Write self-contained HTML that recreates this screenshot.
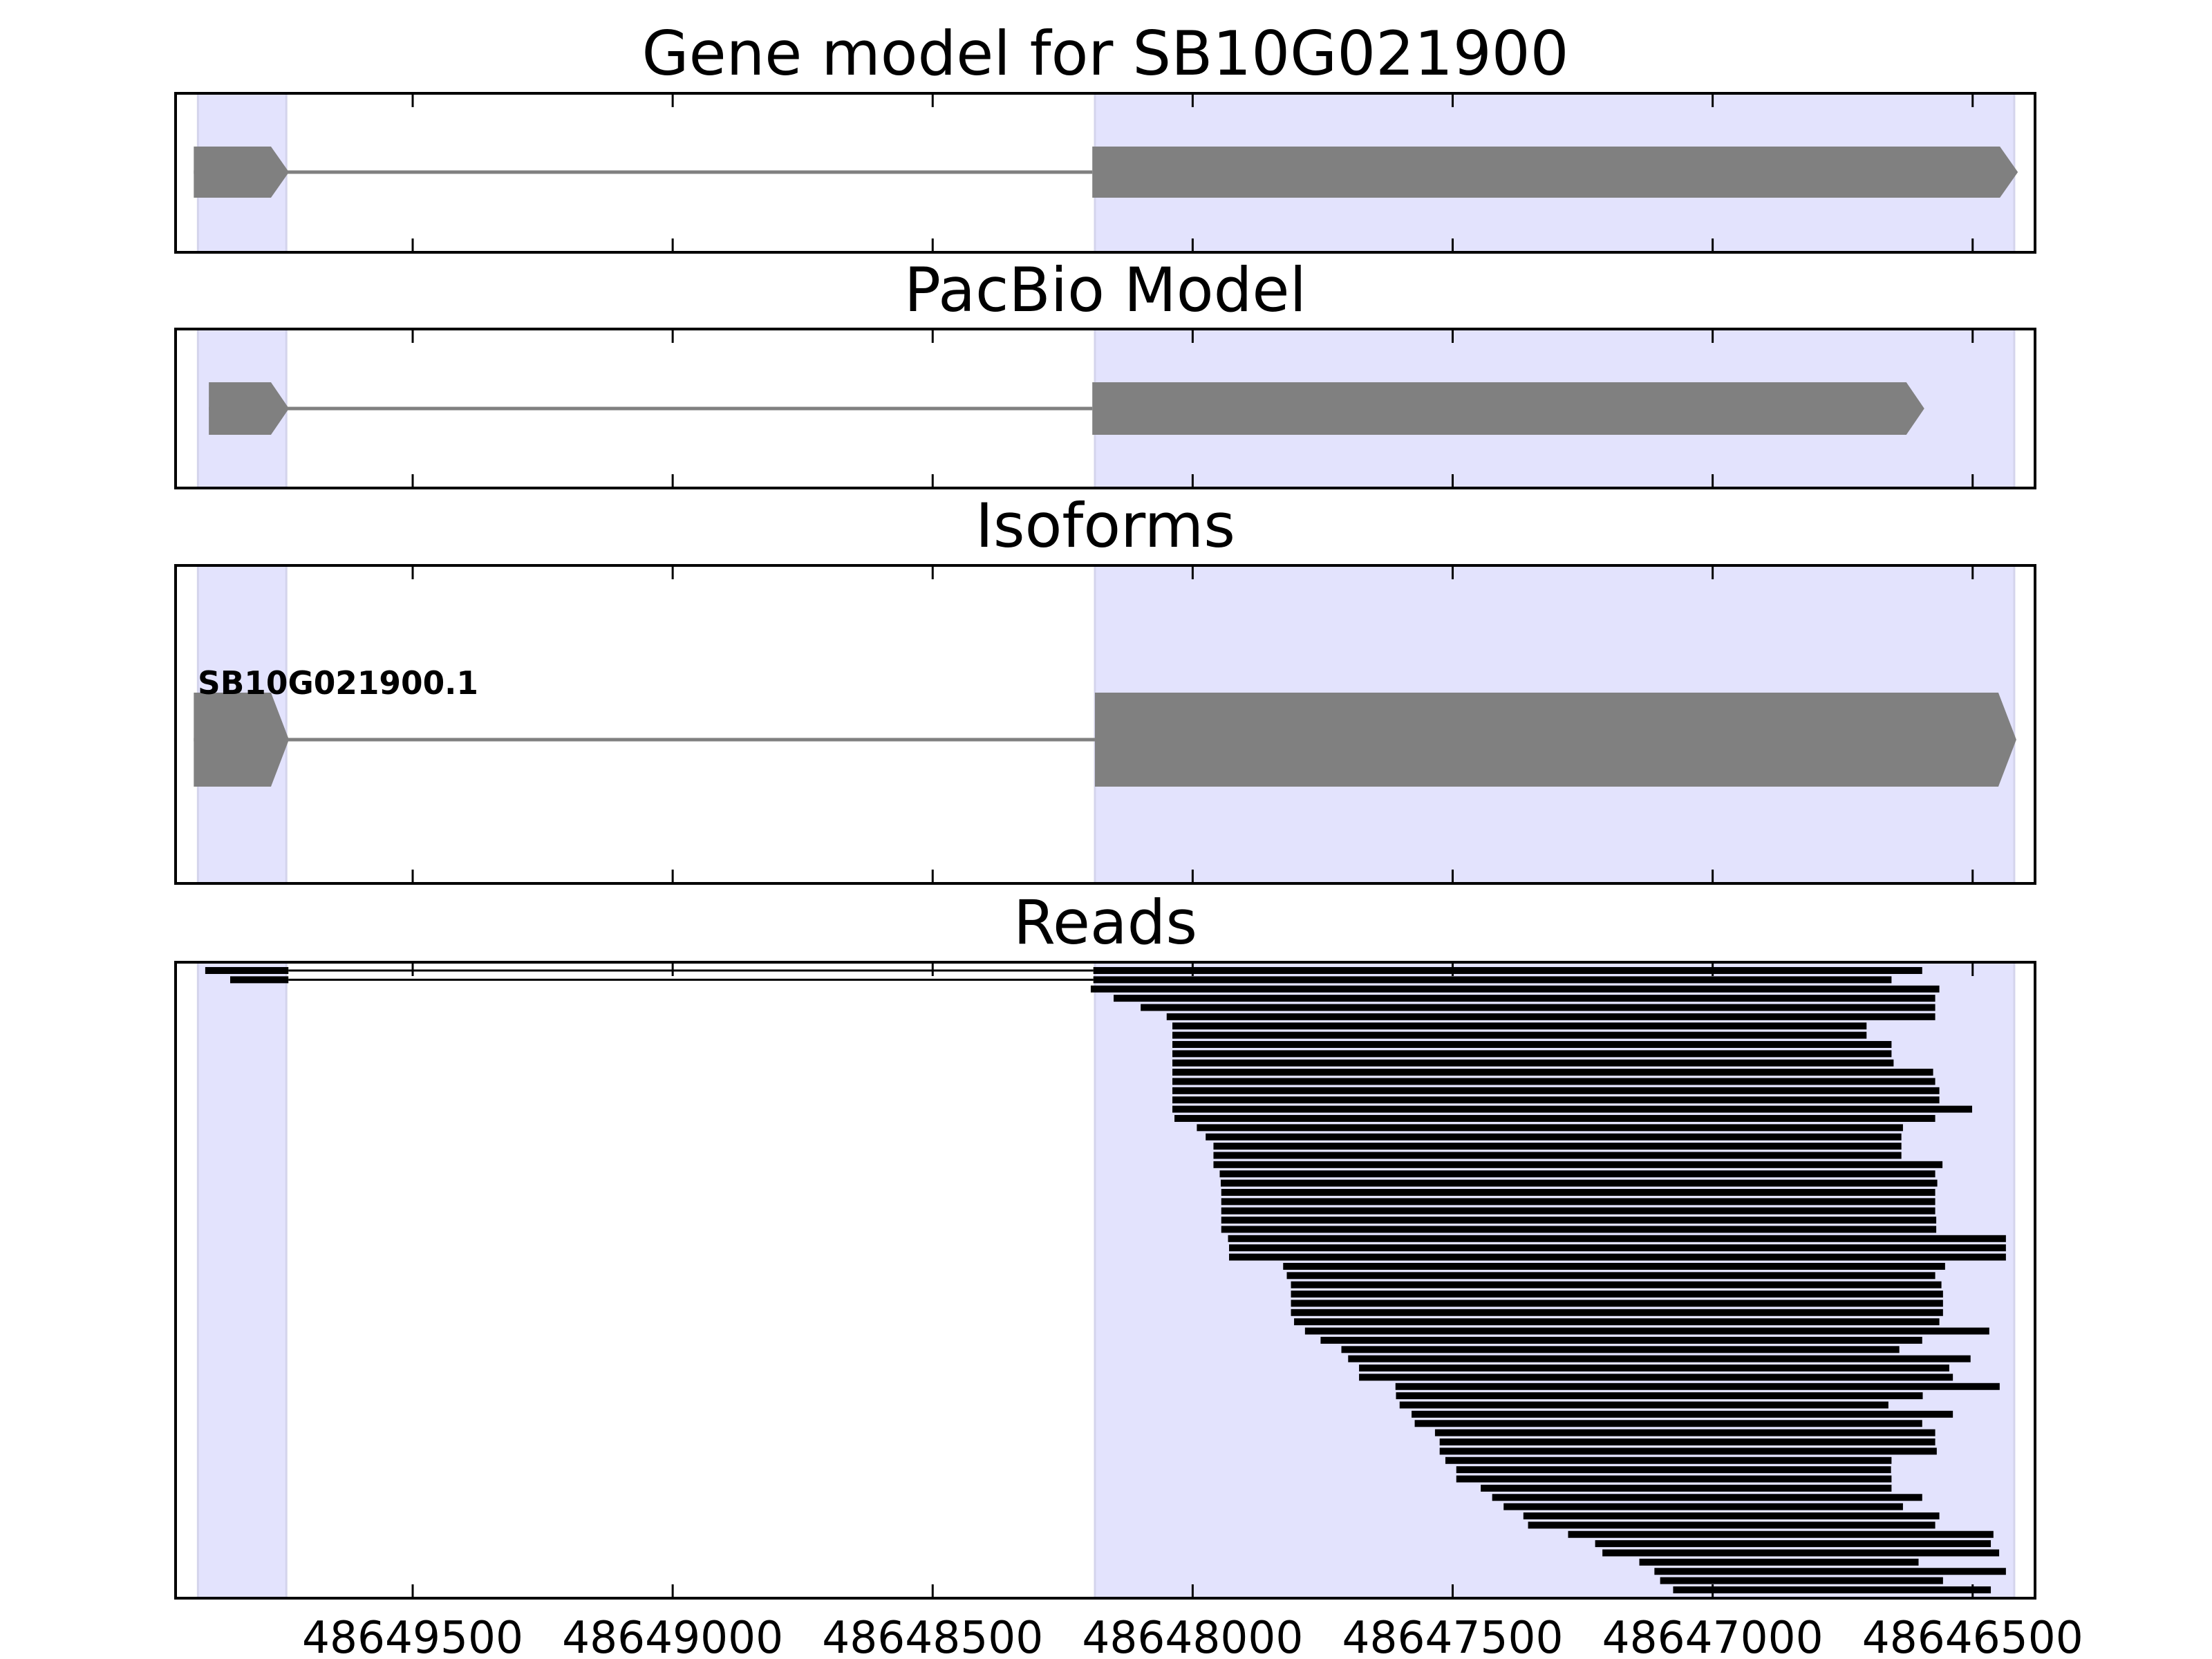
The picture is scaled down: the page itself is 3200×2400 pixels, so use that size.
<!DOCTYPE html>
<html><head><meta charset="utf-8"><style>
html,body{margin:0;padding:0;background:#fff;}
svg{display:block;}
text{font-family:"DejaVu Sans","Liberation Sans",sans-serif;}
</style></head><body>
<svg id="fig" xmlns="http://www.w3.org/2000/svg" width="3200" height="2400" viewBox="0 0 3200 2400"></svg>
<script>
// ---- data ----
const xTicks = [48649500, 48649000, 48648500, 48648000, 48647500, 48647000, 48646500];
const shadedStarts = [48649913, 48648188];
const shadedEnds = [48649743, 48646420];
const geneExonStarts = [48649921, 48648193];
const geneExonEnds = [48649738, 48646413];
const pacbioExonStarts = [48649892, 48648193];
const pacbioExonEnds = [48649738, 48646593];
const isoformExonStarts = [48649921, 48648188];
const isoformExonEnds = [48649738, 48646416];
const isoformName = "SB10G021900.1";
const readStarts = [48648191,48648191,48648196,48648152,48648100,48648050,48648039,48648039,48648039,48648039,
 48648039,48648039,48648039,48648039,48648039,48648039,48648035,48647992,48647975,48647960,
 48647960,48647960,48647948,48647946,48647945,48647945,48647945,48647945,48647945,48647932,
 48647930,48647930,48647826,48647819,48647811,48647811,48647811,48647811,48647805,48647784,
 48647754,48647714,48647701,48647680,48647680,48647610,48647609,48647602,48647579,48647573,
 48647534,48647525,48647525,48647514,48647493,48647493,48647446,48647424,48647402,48647364,
 48647355,48647278,48647226,48647212,48647141,48647112,48647101,48647076];
const readEnds = [48646597,48646656,48646564,48646572,48646572,48646572,48646704,48646704,48646656,48646656,
 48646652,48646576,48646572,48646564,48646564,48646501,48646572,48646634,48646637,48646637,
 48646637,48646558,48646572,48646568,48646572,48646572,48646572,48646570,48646570,48646436,
 48646436,48646436,48646553,48646572,48646560,48646557,48646557,48646557,48646564,48646468,
 48646597,48646641,48646504,48646545,48646538,48646448,48646596,48646662,48646538,48646597,
 48646572,48646572,48646569,48646656,48646657,48646656,48646656,48646597,48646634,48646564,
 48646572,48646460,48646465,48646449,48646604,48646436,48646557,48646465];
const splicedRows = [0, 1];
const splicedExon1Starts = [48649899, 48649851];
const splicedExon1Ends = [48649739, 48649739];

// ---- layout ----
const NS = "http://www.w3.org/2000/svg";
const svg = document.getElementById('fig');
const AX_L = 254, AX_R = 2944;
const X_MAX = 48649956, X_MIN = 48646380;
function xs(v){ return AX_L + (X_MAX - v) / (X_MAX - X_MIN) * (AX_R - AX_L); }
function mk(tag, attrs, parent){
  const e = document.createElementNS(NS, tag);
  for (const k in attrs) e.setAttribute(k, attrs[k]);
  (parent || svg).appendChild(e);
  return e;
}
const panels = [
  {top:135, bottom:365, title:"Gene model for SB10G021900", tb:108, tl:1341, name:"gene-model-panel"},
  {top:476, bottom:706, title:"PacBio Model", tb:450, tl:582, name:"pacbio-model-panel"},
  {top:818, bottom:1278, title:"Isoforms", tb:791, tl:376, name:"isoforms-panel"},
  {top:1392, bottom:2312, title:"Reads", tb:1365, tl:266, name:"reads-panel"}
];
const GRAY = "#808080", TIP = 26;

function exonModel(g, starts, ends, cy, h, lineW){
  const ln = mk('line', {x1:xs(starts[0]), x2:xs(starts[1]), y1:cy, y2:cy, stroke:GRAY, 'stroke-width':lineW}, g);
  
  
  for (let i = 0; i < starts.length; i++){
    const a = xs(starts[i]), b = xs(ends[i]);
    const p = mk('polygon', {points:`${a},${cy-h/2} ${b-TIP},${cy-h/2} ${b},${cy} ${b-TIP},${cy+h/2} ${a},${cy+h/2}`, fill:GRAY}, g);
    
    
  }
}

panels.forEach((P, pi) => {
  const g = mk('g', {});
  
  
  for (let i = 0; i < shadedStarts.length; i++){
    const a = xs(shadedStarts[i]), b = xs(shadedEnds[i]);
    const r = mk('rect', {x:a, y:P.top, width:b-a, height:P.bottom-P.top, fill:"#e3e3fd", stroke:"#d4d4ec", 'stroke-width':3}, g);
    
    
  }
  if (pi === 0) exonModel(g, geneExonStarts, geneExonEnds, 249, 74, 5);
  if (pi === 1) exonModel(g, pacbioExonStarts, pacbioExonEnds, 591, 76, 5);
  if (pi === 2){
    exonModel(g, isoformExonStarts, isoformExonEnds, 1070, 136, 5);
    const t = mk('text', {x:286, y:1004, 'font-size':46, 'font-weight':'bold', textLength:406, lengthAdjust:'spacingAndGlyphs', fill:'#000'}, g);
    t.textContent = isoformName;
    
    
  }
  if (pi === 3){
    const y0 = 1404, dy = 13.373, bh = 10;
    for (let i = 0; i < readStarts.length; i++){
      const cy = y0 + i * dy;
      const si = splicedRows.indexOf(i);
      if (si >= 0){
        const ln = mk('line', {x1:xs(splicedExon1Ends[si]), x2:xs(readStarts[i]), y1:cy, y2:cy, stroke:'#000', 'stroke-width':3}, g);
        
        
        const a = xs(splicedExon1Starts[si]), b = xs(splicedExon1Ends[si]);
        const r1 = mk('rect', {x:a, y:cy-bh/2, width:b-a, height:bh, fill:'#000'}, g);
        
        
      }
      const a = xs(readStarts[i]), b = xs(readEnds[i]);
      const r = mk('rect', {x:a, y:cy-bh/2, width:b-a, height:bh, fill:'#000'}, g);
      
      
    }
  }
  xTicks.forEach(v => {
    const x = xs(v);
    const t1 = mk('line', {x1:x, x2:x, y1:P.top, y2:P.top+20, stroke:'#000', 'stroke-width':3}, g);
    
    
    const t2 = mk('line', {x1:x, x2:x, y1:P.bottom, y2:P.bottom-20, stroke:'#000', 'stroke-width':3}, g);
    
    
  });
  const f = mk('rect', {x:AX_L, y:P.top, width:AX_R-AX_L, height:P.bottom-P.top, fill:'none', stroke:'#000', 'stroke-width':4}, g);
  
  
  const tt = mk('text', {x:(AX_L+AX_R)/2, y:P.tb, 'font-size':88, 'text-anchor':'middle', textLength:P.tl, lengthAdjust:'spacingAndGlyphs', fill:'#000'}, g);
  tt.textContent = P.title;
  
  
});

xTicks.forEach(v => {
  const t = mk('text', {x:xs(v), y:2391, 'font-size':64, 'text-anchor':'middle', textLength:320, lengthAdjust:'spacingAndGlyphs', fill:'#000'});
  t.textContent = String(v);
  
  
});
</script>
</body></html>
